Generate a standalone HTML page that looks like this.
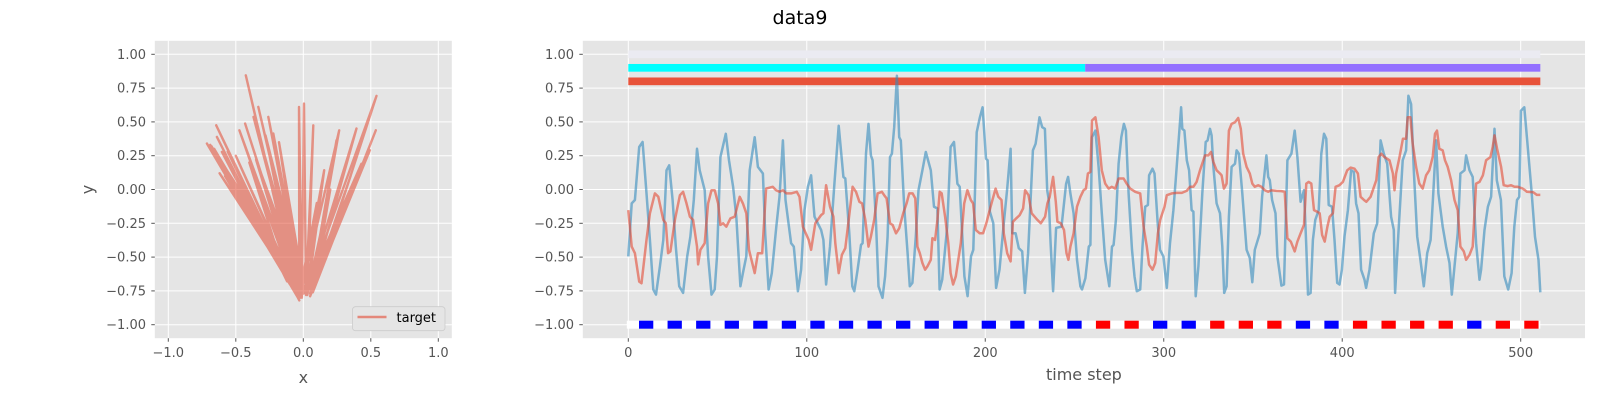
<!DOCTYPE html>
<html><head><meta charset="utf-8"><style>
html,body{margin:0;padding:0;background:#fff;}
svg{display:block;font-family:"DejaVu Sans","Liberation Sans",sans-serif;}
</style></head><body>
<svg id="fig" width="1600" height="400" viewBox="0 0 1600 400" xmlns="http://www.w3.org/2000/svg">
<text x="800" y="24" text-anchor="middle" font-size="19" fill="#000">data9</text>
<g id="left"></g>
<g id="right"></g>
</svg>
<script>
// ---- left plot data ----
const trajX = [-0.05,-0.426,-0.04, -0.714,-0.06, -0.645,-0.03, -0.640,-0.08, -0.603,-0.05, -0.55,-0.07, -0.5,-0.04, -0.60,-0.06, -0.473,-0.02, -0.431,-0.03, -0.369,-0.01, -0.333,-0.02, -0.259,0.0, -0.222,-0.03, -0.032,-0.01, 0.005,0.02, 0.074,0.03, 0.155,0.0, 0.266,0.05, 0.246,0.06, 0.394,0.04, 0.542,0.07, 0.537,0.05, 0.493,0.03, 0.43,0.02, -0.69,-0.05, -0.66,-0.09, -0.58,-0.10, -0.52,-0.08, -0.45,-0.12, -0.40,-0.06, -0.62,-0.11, -0.56,-0.04, -0.30,-0.02, -0.18,0.01, -0.35,-0.07, -0.48,-0.09, -0.68,-0.03, 0.10,0.04, 0.20,0.08, 0.35,0.06, 0.45,0.02, -0.28,-0.05];
const trajY = [-0.78,0.845,-0.80, 0.340,-0.74, 0.475,-0.82, 0.389,-0.72, 0.278,-0.76, 0.20,-0.70, 0.25,-0.78, 0.15,-0.74, 0.438,-0.80, 0.488,-0.76, 0.537,-0.79, 0.611,-0.72, 0.537,-0.77, 0.414,-0.70, 0.611,-0.80, 0.635,-0.76, 0.475,-0.78, 0.143,-0.70, 0.438,-0.77, 0.365,-0.74, 0.451,-0.70, 0.692,-0.76, 0.438,-0.79, 0.291,-0.72, 0.19,-0.75, 0.33,-0.78, 0.30,-0.66, 0.10,-0.70, 0.05,-0.62, 0.0,-0.68, 0.20,-0.74, 0.12,-0.64, 0.28,-0.80, 0.30,-0.72, 0.35,-0.76, 0.22,-0.70, -0.05,-0.66, 0.32,-0.78, -0.10,-0.72, 0.0,-0.70, 0.10,-0.74, 0.20,-0.78, 0.40,-0.75];
const leftXTicks = [-1.0,-0.5,0.0,0.5,1.0];
const leftXTickLabels = ["−1.0","−0.5","0.0","0.5","1.0"];
const yTicks = [-1.0,-0.75,-0.5,-0.25,0,0.25,0.5,0.75,1.0];
const yTickLabels = ["−1.00","−0.75","−0.50","−0.25","0.00","0.25","0.50","0.75","1.00"];

// ---- right plot data ----
const blueT = [0,1.9,3.7,6.1,8.0,10.2,12.1,14.0,15.5,17.7,19.6,21.4,22.9,24.8,26.6,28.5,30.7,33.0,34.8,36.7,38.5,40.0,42.8,44.7,46.6,48.4,49.7,51.6,54.6,56.4,58.7,60.5,62.8,64.2,66.1,68.0,70.8,72.6,75.4,76.7,78.6,80.4,82.9,84.7,86.6,88.1,91.2,92.7,95.0,96.8,98.7,100.6,102.4,104.3,108.0,109.3,110.8,113.0,115.5,117.9,120.5,121.6,123.8,125.5,126.6,128.5,130.4,131.3,133.2,134.6,135.9,136.9,138.7,140.2,142.4,143.9,145.3,146.6,147.7,149.0,150.5,151.8,152.7,154.6,156.5,157.7,159.2,161.1,162.6,164.8,166.7,169.5,171.3,173.2,174.4,175.9,178.7,180.6,182.5,184.4,185.7,188.3,190.1,192.0,193.3,195.2,197.0,198.5,200.4,201.3,202.6,204.5,206.1,208.0,210.4,212.3,214.2,215.1,217.0,218.8,220.7,222.2,224.0,226.7,228.2,230.4,231.9,233.4,234.7,235.6,236.6,238.0,239.7,242.7,245.3,246.4,247.7,249.5,251.4,253.3,254.2,256.1,258.0,258.9,259.8,261.7,263.5,265.3,267.2,269.5,271.0,271.9,273.2,274.7,276.2,277.7,278.8,280.3,282.2,283.6,284.9,286.8,288.1,289.6,291.1,291.8,293.7,294.8,296.6,297.9,299.8,301.7,303.5,305.4,306.7,309.7,310.4,311.6,312.9,314.2,315.6,316.6,317.9,319.4,321.6,323.5,324.6,325.9,326.8,327.8,329.6,331.5,332.8,333.9,335.2,336.5,338.0,339.9,340.8,342.1,344.0,346.4,348.2,349.6,351.0,353.8,355.1,357.5,358.5,359.4,360.7,362.6,363.7,365.9,367.4,369.3,371.5,373.4,374.9,376.7,378.6,379.9,380.8,382.3,383.6,384.9,386.8,388.3,389.8,391.1,392.4,394.3,395.7,397.2,398.5,399.8,401.3,403.2,405.0,406.5,407.8,409.1,410.6,412.5,413.4,415.3,417.7,419.6,421.5,423.3,425.2,427.4,428.9,429.6,431.5,433.9,435.8,437.1,438.6,440.1,442.0,443.8,445.7,447.6,449.5,450.8,452.6,453.9,456.3,458.2,460.1,461.4,462.9,464.7,466.2,468.5,469.4,471.3,473.1,475.0,476.9,477.8,479.7,481.6,483.4,485.3,486.6,488.9,490.8,493.0,494.9,496.4,497.9,499.2,500.1,502.0,503.5,506,508,510,511];
const blueV = [-0.495,-0.103,-0.078,0.314,0.351,-0.029,-0.373,-0.740,-0.777,-0.569,-0.373,0.142,0.179,-0.078,-0.422,-0.716,-0.765,-0.495,-0.348,-0.078,0.301,0.142,-0.005,-0.495,-0.777,-0.740,-0.495,0.240,0.412,0.216,0.020,-0.201,-0.716,-0.618,-0.495,0.142,0.387,0.167,0.118,-0.324,-0.740,-0.618,-0.275,-0.054,0.363,-0.078,-0.397,-0.422,-0.752,-0.593,-0.152,0.020,0.105,-0.201,-0.299,-0.373,-0.703,-0.422,0.042,0.472,0.093,0.081,-0.324,-0.716,-0.752,-0.593,-0.410,-0.397,0.265,0.485,0.252,0.216,-0.225,-0.716,-0.801,-0.642,-0.348,0.240,0.265,0.461,0.841,0.387,0.363,-0.127,-0.471,-0.716,-0.691,-0.348,-0.005,0.142,0.277,0.142,-0.127,-0.140,-0.740,-0.667,-0.275,0.314,0.351,0.042,0.020,-0.642,-0.789,-0.495,-0.446,0.424,0.534,0.608,0.228,0.216,-0.164,-0.250,-0.728,-0.593,-0.250,0.007,0.301,-0.324,-0.324,-0.434,-0.458,-0.765,-0.471,0.289,0.338,0.534,0.461,0.449,-0.005,-0.078,-0.397,-0.752,-0.284,-0.275,0.042,0.093,-0.029,-0.176,-0.520,-0.716,-0.740,-0.655,-0.422,-0.410,0.387,0.436,0.167,-0.176,-0.520,-0.716,-0.422,-0.410,-0.225,0.191,0.387,0.485,0.436,-0.029,-0.446,-0.642,-0.752,-0.740,-0.422,-0.127,-0.115,0.105,0.154,0.118,-0.250,-0.446,-0.495,-0.728,-0.397,-0.152,0.069,0.608,0.449,0.436,0.216,0.142,-0.152,-0.164,-0.789,-0.569,-0.029,0.351,0.363,0.449,0.400,0.167,-0.103,-0.176,-0.422,-0.765,-0.716,-0.201,0.167,0.191,0.289,0.265,-0.029,-0.446,-0.507,-0.686,-0.446,-0.324,-0.054,0.252,0.093,0.069,-0.078,-0.176,-0.495,-0.711,-0.703,0.216,0.265,0.436,0.240,-0.091,-0.005,-0.422,-0.777,-0.765,-0.373,-0.225,-0.152,0.265,0.412,0.375,-0.115,-0.127,-0.373,-0.691,-0.703,-0.593,-0.348,-0.152,0.142,0.130,-0.103,-0.176,-0.593,-0.667,-0.728,-0.593,-0.324,-0.250,0.363,0.265,0.191,-0.201,-0.299,-0.765,-0.324,0.216,0.289,0.694,0.632,0.142,-0.348,-0.520,-0.716,-0.471,-0.373,-0.078,0.363,-0.029,-0.275,-0.422,-0.544,-0.777,-0.569,-0.324,0.118,0.142,0.252,0.142,0.093,-0.397,-0.667,-0.593,-0.299,-0.127,-0.054,0.449,0.069,-0.078,-0.642,-0.740,-0.618,-0.275,-0.078,-0.054,0.583,0.608,0.387,0.0,-0.35,-0.52,-0.76];
const orangeT = [0,1.9,3.7,6.1,7.4,10.2,12.1,14.9,16.8,19.6,21.0,22.3,23.6,26.1,28.9,30.7,32.6,34.5,36.3,38.5,39.1,40.4,42.8,44.7,46.6,48.4,50.3,51.6,53.1,54.9,57.2,59.6,62.4,64.2,66.1,67.6,70.8,72.6,75.0,77.2,80.9,82.8,84.7,86.6,88.5,91.2,94.4,95.9,97.8,101.1,102.4,104.8,108.0,109.3,110.8,113.0,114.9,116.0,117.9,119.7,121.6,123.5,125.7,127.6,129.5,131.0,132.8,134.6,135.9,137.8,139.7,142.1,143.4,144.7,146.6,148.1,150.0,151.8,154.0,155.9,157.4,159.3,160.8,162.0,163.3,164.8,166.3,167.6,169.5,170.4,171.9,173.2,174.5,175.6,177.5,179.3,180.6,182.0,183.5,186.3,188.2,190.0,191.9,193.2,194.7,196.9,198.8,200.6,203.0,205.8,207.3,209.1,210.4,212.3,214.2,215.5,217.4,219.3,221.2,222.3,224.2,226.0,229.2,231.1,233.5,234.8,236.1,238.0,239.5,240.4,242.3,244.1,245.5,246.6,247.7,249.5,251.4,253.3,255.1,256.4,257.5,258.9,259.8,261.7,263.5,265.3,267.2,269.1,270.9,272.8,274.7,277.5,279.3,281.2,284.0,286.8,288.7,290.5,291.8,293.7,295.2,296.7,298.0,300.4,301.7,304.5,307.3,310.1,312.8,314.7,316.6,318.4,320.3,323.1,325.0,326.5,327.8,329.6,331.5,332.4,333.7,335.2,336.5,338.0,339.9,341.7,343.2,344.5,346.4,348.2,349.6,351.0,352.9,354.7,356.6,358.5,360.3,363.1,365.9,367.8,369.3,371.2,373.4,374.9,376.7,378.6,379.9,381.2,382.7,384.2,386.0,387.4,388.7,390.2,391.7,393.0,394.8,396.3,398.5,400.4,402.8,404.7,406.9,408.8,410.3,412.2,413.5,415.9,417.8,419.1,420.4,421.9,423.7,426.5,428.4,429.3,430.2,432.1,434.0,435.8,436.7,438.2,439.5,441.4,443.2,445.1,447.0,448.8,450.7,452.0,453.1,454.4,456.3,457.6,459.1,461.0,462.9,464.7,466.2,468.1,469.4,471.3,473.1,475.0,476.9,478.8,480.6,483.0,484.3,485.3,486.8,489.0,490.5,492.7,494.6,496.5,498.3,501.1,502.4,503.5,507,509,511];
const orangeV = [-0.152,-0.422,-0.471,-0.681,-0.694,-0.373,-0.176,-0.029,-0.054,-0.225,-0.250,-0.471,-0.458,-0.225,-0.042,-0.017,-0.103,-0.201,-0.225,-0.422,-0.554,-0.446,-0.397,-0.103,-0.005,-0.005,-0.103,-0.262,-0.250,-0.275,-0.214,-0.201,-0.054,-0.103,-0.176,-0.446,-0.618,-0.471,-0.471,0.007,0.020,-0.005,-0.017,-0.005,-0.029,-0.029,-0.017,-0.054,-0.275,-0.373,-0.446,-0.250,-0.189,-0.176,0.032,-0.127,-0.201,-0.397,-0.618,-0.483,-0.434,-0.225,0.020,-0.017,-0.091,-0.103,-0.225,-0.422,-0.348,-0.225,-0.029,-0.017,-0.042,-0.066,-0.250,-0.262,-0.324,-0.287,-0.176,-0.103,-0.029,-0.029,-0.066,-0.422,-0.471,-0.544,-0.593,-0.569,-0.520,-0.360,-0.373,-0.225,-0.017,-0.029,-0.201,-0.397,-0.618,-0.703,-0.642,-0.397,-0.103,-0.005,-0.078,-0.103,-0.299,-0.324,-0.324,-0.250,-0.127,0.007,-0.054,-0.078,-0.324,-0.471,-0.532,-0.238,-0.213,-0.189,-0.140,-0.005,-0.042,-0.176,-0.225,-0.250,-0.201,-0.103,-0.054,0.093,-0.091,-0.238,-0.250,-0.299,-0.471,-0.520,-0.422,-0.324,-0.127,-0.054,-0.005,0.007,0.118,0.130,0.510,0.534,0.387,0.142,0.044,0.007,0.020,0.007,0.081,0.081,0.042,0.007,-0.017,-0.029,-0.275,-0.422,-0.556,-0.593,-0.544,-0.324,-0.225,-0.127,-0.042,-0.029,-0.025,-0.025,-0.010,0.020,0.020,0.056,0.142,0.252,0.252,0.277,0.203,0.142,0.118,0.105,0.007,0.044,0.436,0.485,0.498,0.529,0.449,0.265,0.167,0.118,0.044,0.020,0.032,0.020,-0.005,-0.017,-0.005,-0.010,-0.012,-0.017,-0.360,-0.385,-0.458,-0.385,-0.324,-0.262,0.044,0.056,0.044,-0.152,-0.164,-0.176,-0.336,-0.385,-0.275,-0.201,-0.176,0.020,0.032,0.056,0.142,0.162,0.154,0.118,-0.054,-0.078,-0.091,-0.054,0.020,0.069,0.240,0.265,0.240,0.216,0.118,-0.005,0.118,0.240,0.375,0.375,0.534,0.534,0.338,0.167,0.044,0.007,0.105,0.142,0.240,0.412,0.436,0.301,0.289,0.216,0.167,0.069,-0.078,-0.152,-0.422,-0.458,-0.520,-0.483,-0.422,0.044,0.056,0.105,0.216,0.240,0.314,0.400,0.301,0.167,0.032,0.025,0.032,0.020,0.020,0.007,-0.005,-0.017,-0.02,-0.04,-0.04];
const taskColors = ["b","b","b","b","b","b","b","b","b","b","b","b","b","b","b","b","r","r","b","b","r","r","r","b","b","r","r","r","r","b","r","r"];
const phaseSwitch = 256;
const seqLength = 511;
const rightXTicks = [0,100,200,300,400,500];

const NS = "http://www.w3.org/2000/svg";
function mk(parent, tag, attrs){ const e=document.createElementNS(NS,tag); for(const k in attrs) e.setAttribute(k,attrs[k]); parent.appendChild(e); return e; }

// ---------- LEFT ----------
const L = document.getElementById('left');
const lx = v => 303.3 + v*135.0;
const ly = v => 189.5 - v*135.2;
const lbg = mk(L,'rect',{x:154.8,y:40.8,width:297,height:297.4,fill:'#E5E5E5'});


leftXTicks.forEach((t,i)=>{
  const g = mk(L,'line',{x1:lx(t),x2:lx(t),y1:40.8,y2:338.2,stroke:'#fff','stroke-width':1});
  
  
  mk(L,'line',{x1:lx(t),x2:lx(t),y1:338.2,y2:341.7,stroke:'#555','stroke-width':1});
  const tx = mk(L,'text',{x:lx(t),y:357,'text-anchor':'middle','font-size':13,fill:'#555'});
  tx.textContent = leftXTickLabels[i];
  
  
});
yTicks.forEach((t,i)=>{
  const g = mk(L,'line',{x1:154.8,x2:451.8,y1:ly(t),y2:ly(t),stroke:'#fff','stroke-width':1});
  
  
  mk(L,'line',{x1:151.3,x2:154.8,y1:ly(t),y2:ly(t),stroke:'#555','stroke-width':1});
  const tx = mk(L,'text',{x:146,y:ly(t)+4.5,'text-anchor':'end','font-size':13,fill:'#555'});
  tx.textContent = yTickLabels[i];
  
  
});
let td = '';
trajX.forEach((x,i)=>{ td += (i?'L':'M') + lx(x).toFixed(1) + ' ' + ly(trajY[i]).toFixed(1); });
const tp = mk(L,'path',{d:td,fill:'none',stroke:'#E24A33','stroke-opacity':0.55,'stroke-width':2.4,'stroke-linejoin':'round'});


const xl = mk(L,'text',{x:303.3,y:383,'text-anchor':'middle','font-size':16,fill:'#555'}); xl.textContent='x';


const yl = mk(L,'text',{x:0,y:0,'text-anchor':'middle','font-size':16,fill:'#555',transform:'translate(93,189.5) rotate(-90)'}); yl.textContent='y';


const leg = mk(L,'g',{});


mk(leg,'rect',{x:352.5,y:306.7,width:92.5,height:24,rx:3,fill:'#E5E5E5',stroke:'#CCCCCC','stroke-width':0.8});
const ll = mk(leg,'line',{x1:357.5,x2:386.5,y1:317,y2:317,stroke:'#E24A33','stroke-opacity':0.6,'stroke-width':2.4});


const lt = mk(leg,'text',{x:396.5,y:322,'font-size':13,fill:'#000'}); lt.textContent='target';



// ---------- RIGHT ----------
const R = document.getElementById('right');
const rx = t => 628.3 + t*1.7848;
const ry = v => 189.5 - v*135.2;
const rbg = mk(R,'rect',{x:582.8,y:40.8,width:1002.2,height:297.4,fill:'#E5E5E5'});


rightXTicks.forEach(t=>{
  const g = mk(R,'line',{x1:rx(t),x2:rx(t),y1:40.8,y2:338.2,stroke:'#fff','stroke-width':1});
  
  
  mk(R,'line',{x1:rx(t),x2:rx(t),y1:338.2,y2:341.7,stroke:'#555','stroke-width':1});
  const tx = mk(R,'text',{x:rx(t),y:357,'text-anchor':'middle','font-size':13,fill:'#555'});
  tx.textContent = String(t);
  
  
});
yTicks.forEach((t,i)=>{
  const g = mk(R,'line',{x1:582.8,x2:1585,y1:ry(t),y2:ry(t),stroke:'#fff','stroke-width':1});
  
  
  mk(R,'line',{x1:579.3,x2:582.8,y1:ry(t),y2:ry(t),stroke:'#555','stroke-width':1});
  const tx = mk(R,'text',{x:574,y:ry(t)+4.5,'text-anchor':'end','font-size':13,fill:'#555'});
  tx.textContent = yTickLabels[i];
  
  
});
// status bars
const bh = 7.7;
const b1 = mk(R,'rect',{x:rx(0),y:ry(1.0)-bh/2,width:rx(seqLength)-rx(0),height:bh,fill:'#EBEBF2'});


const b2 = mk(R,'rect',{x:rx(0),y:ry(0.9)-bh/2,width:rx(phaseSwitch)-rx(0),height:bh,fill:'#00FFFF'});


const b3 = mk(R,'rect',{x:rx(phaseSwitch),y:ry(0.9)-bh/2,width:rx(seqLength)-rx(phaseSwitch),height:bh,fill:'#9370FF'});


const b4 = mk(R,'rect',{x:rx(0),y:ry(0.8)-bh/2,width:rx(seqLength)-rx(0),height:bh,fill:'#E8533A'});


const strip = mk(R,'rect',{x:rx(0)-1.5,y:ry(-1.0)-4,width:rx(seqLength)-rx(0)+1.5,height:8,fill:'#FFFFFF'});


taskColors.forEach((c,k)=>{
  const tc = 16*k+10;
  const sq = mk(R,'rect',{x:rx(tc-4),y:ry(-1.0)-4,width:rx(tc+4)-rx(tc-4),height:8,fill:c==='b'?'#0000FF':'#FF0000'});
  
  
});
function series(T,V,color){
  let d='';
  T.forEach((t,i)=>{ d += (i?'L':'M') + rx(t).toFixed(1)+' '+ry(V[i]).toFixed(1); });
  const p = mk(R,'path',{d:d,fill:'none',stroke:color,'stroke-opacity':0.6,'stroke-width':2.5,'stroke-linejoin':'round'});
  return p;
}
const pb = series(blueT,blueV,'#348ABD');


const po = series(orangeT,orangeV,'#E24A33');


const xt = mk(R,'text',{x:1083.9,y:380,'text-anchor':'middle','font-size':16,fill:'#555'}); xt.textContent='time step';


</script>
</body></html>
